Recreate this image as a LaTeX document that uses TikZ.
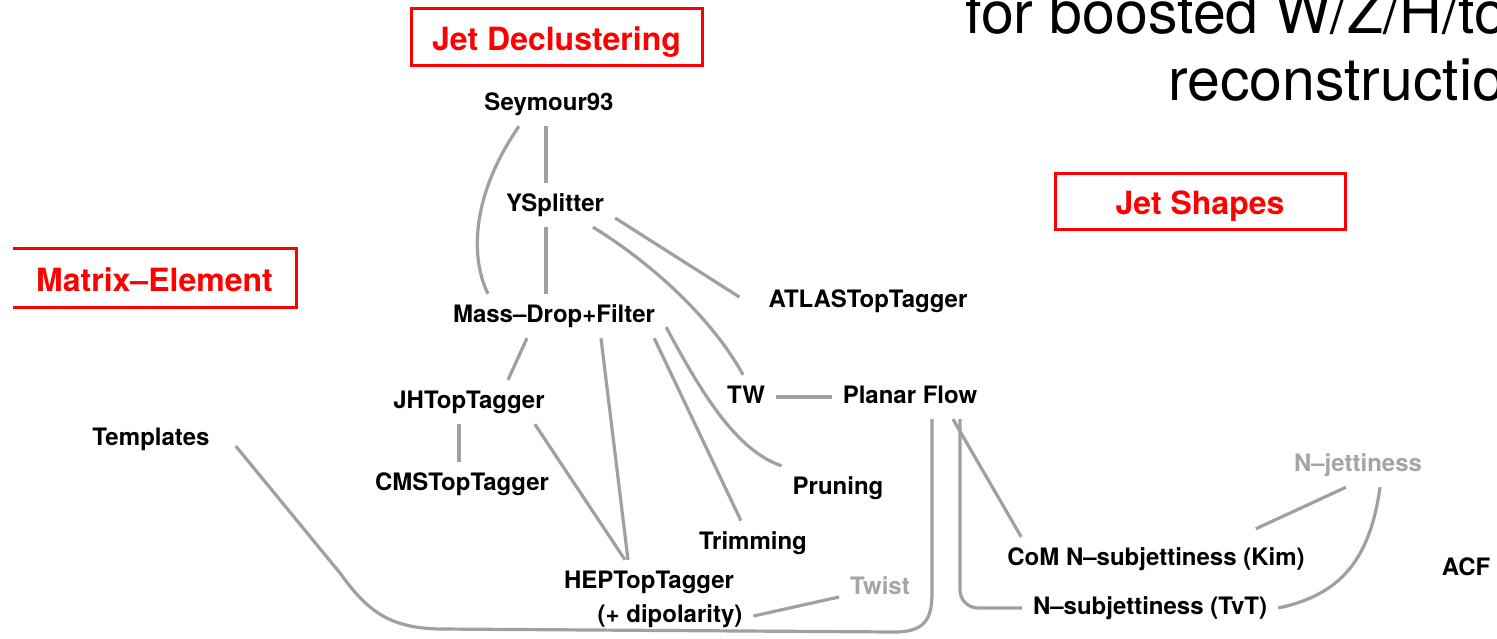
\documentclass[tikz,border=0pt]{standalone}
\usepackage{fontspec}
\setmainfont{TeX Gyre Heros}
\usepackage{tikz}
\definecolor{linkgray}{RGB}{160,160,160}
\definecolor{fadegray}{RGB}{165,165,165}

\begin{document}
\begin{tikzpicture}[x=1pt, y=1pt,
    tagger/.style={font=\bfseries\fontsize{24}{28}\selectfont, inner sep=11pt, text height=17pt, text depth=5pt, anchor=base},
    faded/.style={tagger, text=fadegray},
    family/.style={font=\bfseries\fontsize{32}{38}\selectfont, text=red, text height=27pt, text depth=0pt, inner sep=0pt},
    link/.style={draw=linkgray, line width=3.2pt}]
        \useasboundingbox (0,0) rectangle (1497,-638);

        % Title (cut at the right edge)
        \begin{scope}
            \clip (0,0) rectangle (1497,-638);
            \node[anchor=base west, inner sep=0pt, font=\fontsize{59}{68}\selectfont] (title1) at (965,-33) {for boosted W/Z/H/to};
            \node[anchor=base west, inner sep=0pt, font=\fontsize{59}{68}\selectfont] (title2) at (1168,-100) {reconstructio};
        \end{scope}

        % Families
        \node[family, draw=red, line width=3pt, minimum width=291pt, minimum height=57pt] (declust) at (556.5,-36.5) {Jet Declustering};
        \node[family, draw=red, line width=3pt, minimum width=290pt, minimum height=56pt] (shapes) at (1200,-201) {Jet Shapes};
        \node[family, minimum width=283pt, minimum height=58pt] (matrixel) at (154.5,-278) {Matrix--Element};
        \draw[red, line width=3pt] (matrixel.north west) -- (matrixel.north east) -- (matrixel.south east) -- (matrixel.south west);

        % Taggers
        \node[tagger] (seymour) at (549,-110) {Seymour93};
        \node[tagger] (ysplit) at (555,-211) {YSplitter};
        \node[tagger] (massdrop) at (554,-322) {Mass--Drop+Filter};
        \node[tagger] (atlas) at (868,-307) {ATLASTopTagger};
        \node[tagger] (jh) at (469,-408) {JHTopTagger};
        \node[tagger] (tw) at (746,-403) {TW};
        \node[tagger] (planar) at (910,-403) {Planar Flow};
        \node[tagger] (templates) at (151,-445) {Templates};
        \node[tagger] (cms) at (462,-490) {CMSTopTagger};
        \node[tagger] (pruning) at (838,-494) {Pruning};
        \node[tagger] (trimming) at (753,-549) {Trimming};
        \node[tagger] (hep) at (649,-588) {HEPTopTagger};
        \node[tagger] (dipol) at (670,-622) {(+ dipolarity)};
        \node[faded] (twist) at (880,-594) {Twist};
        \node[faded] (njet) at (1358,-471) {N--jettiness};
        \node[tagger] (com) at (1156,-565) {CoM N--subjettiness (Kim)};
        \node[tagger] (tvt) at (1150,-614) {N--subjettiness (TvT)};
        \node[tagger] (acf) at (1466,-575) {ACF};

        % Links
        \draw[link] ([xshift=-3pt]seymour.south) -- ([xshift=-9pt]ysplit.north);
        \draw[link] ([xshift=-30pt]seymour.south) .. controls (468,-200) and (472,-262) .. ([xshift=-66pt]massdrop.north);
        \draw[link] ([xshift=-9pt]ysplit.south) -- ([xshift=-8pt]massdrop.north);
        \draw[link] ([yshift=-13pt]ysplit.east) -- ([xshift=-18pt,yshift=4pt]atlas.west);
        \draw[link] ([xshift=38pt]ysplit.south) .. controls (650,-262) and (712,-318) .. ([xshift=-3pt]tw.north);
        \draw[link] ([xshift=-27pt]massdrop.south) -- ([xshift=39pt]jh.north);
        \draw[link] ([xshift=47pt]massdrop.south) -- ([xshift=-21pt]hep.north);
        \draw[link] ([xshift=-12pt]massdrop.south east) -- ([xshift=-12pt]trimming.north);
        \draw[link] ([yshift=11pt]massdrop.south east) .. controls (700,-390) and (735,-450) .. (pruning.north west);
        \draw[link] ([xshift=-10pt]jh.south) -- ([xshift=-3pt]cms.north);
        \draw[link] ([xshift=-21pt]jh.south east) -- ([xshift=-24pt]hep.north);
        \draw[link] (tw) -- (planar);
        \draw[link] ([xshift=15pt,yshift=-7pt]templates.east) -- (340,-573) .. controls (368,-612) and (390,-628) .. (440,-629) -- (895,-632) .. controls (928,-632) and (932,-615) .. (932,-592) -- ([xshift=22pt]planar.south);
        \draw[link] (dipol.east) -- ([yshift=-9pt]twist.west);
        \draw[link] ([xshift=43pt]planar.south) -- ([xshift=25pt]com.north west);
        \draw[link, rounded corners=18pt] ([xshift=50pt]planar.south) |- (tvt.west);
        \draw[link] ([xshift=-60pt,yshift=8pt]com.north east) -- ([xshift=-12pt]njet.south);
        \draw[link] ([xshift=22pt]njet.south) .. controls (1370,-560) and (1340,-595) .. (tvt.east);
\end{tikzpicture}
\end{document}
